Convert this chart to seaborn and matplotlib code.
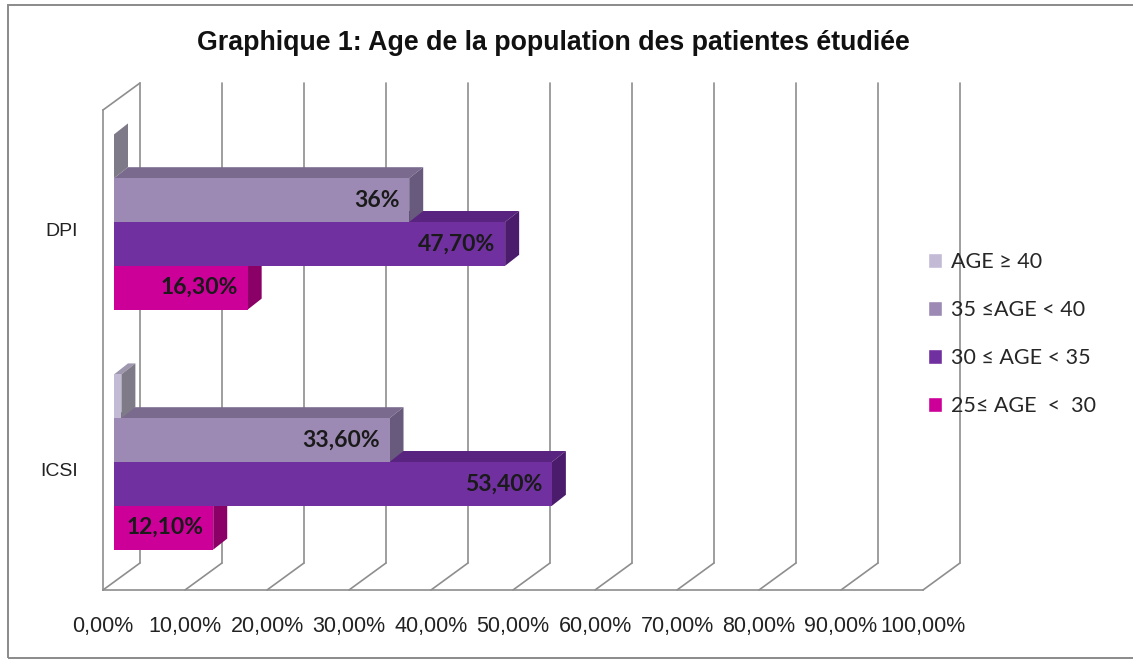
#!/usr/bin/env python3

import pandas as pd
import matplotlib.pyplot as plt
from matplotlib.patches import Polygon, Rectangle
import seaborn as sns

# data
groupes = ["DPI", "ICSI"]
tranches = ["AGE ≥ 40", "35 ≤AGE < 40", "30 ≤ AGE < 35", "25≤ AGE  <  30"]
pct_dpi = [0.0, 36.0, 47.7, 16.3]
pct_icsi = [0.9, 33.6, 53.4, 12.1]
x_ticks = list(range(0, 101, 10))
title = "Graphique 1: Age de la population des patientes étudiée"

# face colours (front, top, side) per age class
front_colors = ["#C3BAD6", "#9C8AB4", "#7030A0", "#CC0099"]
top_colors = ["#9F97AE", "#7A6A8E", "#58247F", "#A3007C"]
side_colors = ["#7F7A88", "#675A7C", "#4B1C6B", "#8A0066"]
grid_color = "#8E8E8E"

W, H = 1133, 662


def pct_label(v):
    s = f"{v:.0f}%" if float(v).is_integer() else f"{v:.2f}%"
    return s.replace(".", ",")


def build_frame() -> pd.DataFrame:
    rows = []
    for g, vals in zip(groupes, [pct_dpi, pct_icsi]):
        for t, v in zip(tranches, vals):
            rows.append({"groupe": g, "tranche": t, "pct": v})
    return pd.DataFrame(rows)


def main():
    sns.set_style("white")
    plt.rcParams["font.family"] = ["Liberation Sans", "DejaVu Sans"]
    df = build_frame()

    fig = plt.figure(figsize=(W / 100, H / 100), dpi=100)

    # outer chart border
    fig.patches.append(Rectangle((8 / W, 4 / H), 1.2, (658 - 5) / H, transform=fig.transFigure,
                                 fill=False, edgecolor="#8A8A8A", lw=1.4))

    fig.text(553 / W, 1 - 43 / H, title, ha="center", va="center",
             fontsize=19.3, fontweight="bold", color="#111111")

    # front plane axes: walls, floor, ticks
    ax = fig.add_axes([103 / W, 72 / H, 820 / W, 480 / H])
    ax.set_xlim(0, 100)
    ax.set_ylim(1.5, -0.5)
    ax.set_facecolor("none")
    for side in ["top", "right"]:
        ax.spines[side].set_visible(False)
    for side in ["left", "bottom"]:
        ax.spines[side].set_color(grid_color)
        ax.spines[side].set_linewidth(1.2)

    dx = 37 / 8.2
    dy = -27 / 240
    ax.plot([0, dx], [-0.5, -0.5 + dy], color=grid_color, lw=1.2, clip_on=False)
    for x in x_ticks:
        ax.plot([x, x + dx], [1.5, 1.5 + dy], color=grid_color, lw=1.2, clip_on=False)
        ax.plot([x + dx, x + dx], [1.5 + dy, -0.5 + dy], color=grid_color, lw=1.2, clip_on=False)

    ax.set_xticks(x_ticks)
    ax.set_xticklabels([f"{x},00%" for x in x_ticks], fontsize=15.5, color="#222222")
    ax.tick_params(axis="x", direction="out", length=5, width=1.2, color=grid_color, pad=14)
    ax.set_yticks([0, 1])
    ax.set_yticklabels(groupes, fontsize=14, color="#222222")
    ax.set_yticks([-0.5, 0.5, 1.5], minor=True)
    ax.tick_params(axis="y", which="major", length=0, pad=18)
    ax.tick_params(axis="y", which="minor", direction="out", length=6, width=1.2, color=grid_color)

    # bars sit a little behind the front plane
    bx = fig.add_axes([114 / W, 80 / H, 820 / W, 480 / H])
    sns.barplot(data=df, y="groupe", x="pct", hue="tranche", order=groupes, hue_order=tranches,
                orient="h", width=0.73, palette=front_colors, saturation=1, ax=bx)
    bx.set_xlim(0, 100)
    bx.set_ylim(1.5, -0.5)
    bx.set_facecolor("none")
    bx.axis("off")

    bdx = 14 / 8.2
    bdy = -11 / 240
    n = len(tranches)
    for i, cont in enumerate(bx.containers):
        z = 3 + (n - i)
        for bar, v in zip(cont.patches, [pct_dpi[i], pct_icsi[i]]):
            x0, y0 = bar.get_x(), bar.get_y()
            w, h = bar.get_width(), bar.get_height()
            x1 = x0 + w
            bar.set_zorder(z + 0.2)
            bar.set_edgecolor("none")
            side = Polygon([(x1, y0), (x1 + bdx, y0 + bdy), (x1 + bdx, y0 + h + bdy), (x1, y0 + h)],
                           closed=True, facecolor=side_colors[i], edgecolor="none", zorder=z + 0.1)
            top = Polygon([(x0, y0), (x0 + bdx, y0 + bdy), (x1 + bdx, y0 + bdy), (x1, y0)],
                          closed=True, facecolor=top_colors[i], edgecolor="none", zorder=z)
            bx.add_patch(side)
            bx.add_patch(top)
            if v >= 5:
                bx.text(v - 1.2, y0 + h / 2, pct_label(v), ha="right", va="center",
                        fontsize=16.5, fontweight="bold", color="#1A1A1A",
                        family=["Lato", "DejaVu Sans"], zorder=20)

    sns.move_legend(bx, "upper left", bbox_to_anchor=(928 / W, 1 - 252 / H),
                    bbox_transform=fig.transFigure, frameon=False, title=None,
                    prop={"family": ["Lato", "DejaVu Sans"], "size": 15.5},
                    labelspacing=1.3, handlelength=0.65, handleheight=0.65,
                    handletextpad=0.4, borderpad=0, borderaxespad=0)

    fig.savefig("out.png", dpi=100)
    plt.close(fig)


if __name__ == "__main__":
    main()
